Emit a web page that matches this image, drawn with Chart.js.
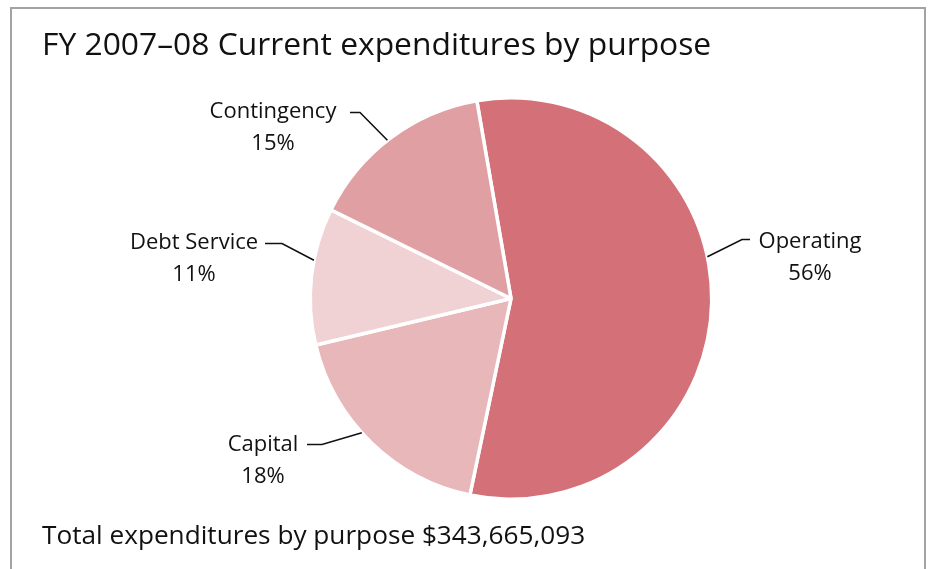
<!DOCTYPE html>
<html>
<head>
<meta charset="utf-8">
<script src="https://cdn.jsdelivr.net/npm/chart.js@4.4.1/dist/chart.umd.min.js"></script>
<style>
  html, body { margin: 0; padding: 0; background: #fff; }
  body { width: 934px; height: 569px; position: relative; overflow: hidden; font-family: "Open Sans", "Noto Sans", sans-serif; color: #111; }
  .frame { position: absolute; left: 10px; top: 7px; width: 916px; height: 600px; border: 2px solid #a3a3a3; box-sizing: border-box; }
  .title { position: absolute; left: 42px; top: 27px; font-size: 31.8px; line-height: 1; white-space: nowrap; }
  .footer { position: absolute; left: 42px; top: 521px; font-size: 26.2px; line-height: 1; white-space: nowrap; }
  #pie { position: absolute; left: 0; top: 0; }
</style>
</head>
<body>
<div class="frame"></div>
<canvas id="pie" width="934" height="569"></canvas>
<div class="title">FY 2007–08 Current expenditures by purpose</div>
<div class="footer">Total expenditures by purpose $343,665,093</div>
<script>
const purposes = ['Operating', 'Capital', 'Debt Service', 'Contingency'];
const shares = [56, 18, 11, 15];
const sliceColors = ['#d47077', '#e8b7ba', '#f0d1d4', '#e0a0a3'];

// callout layout per slice: angle on the rim (deg, clockwise from top),
// elbow and text centre given relative to the pie centre
const callouts = [
  { angle: 78,  elbow: [231, -59], end: [239, -59], text: [299, -57] },
  { angle: 228, elbow: [-189, 146], end: [-204, 146], text: [-248, 146] },
  { angle: 281, elbow: [-229, -55], end: [-246, -55], text: [-317, -56] },
  { angle: 322, elbow: [-151, -186], end: [-161, -186], text: [-238, -187] }
];

const calloutPlugin = {
  id: 'callouts',
  afterDatasetsDraw(chart) {
    const ctx = chart.ctx;
    const arcs = chart.getDatasetMeta(0).data;
    ctx.save();
    arcs.forEach((arc, i) => {
      const c = callouts[i];
      const cx = arc.x, cy = arc.y, r = arc.outerRadius;
      const a = (c.angle - 90) * Math.PI / 180;
      ctx.strokeStyle = '#111';
      ctx.lineWidth = 1.6;
      ctx.beginPath();
      ctx.moveTo(cx + Math.cos(a) * r, cy + Math.sin(a) * r);
      ctx.lineTo(cx + c.elbow[0], cy + c.elbow[1]);
      ctx.lineTo(cx + c.end[0], cy + c.end[1]);
      ctx.stroke();

      ctx.fillStyle = '#111';
      ctx.font = '22px "Open Sans", "Noto Sans", sans-serif';
      ctx.textAlign = 'center';
      ctx.textBaseline = 'middle';
      ctx.fillText(purposes[i], cx + c.text[0], cy + c.text[1]);
      ctx.fillText(shares[i] + '%', cx + c.text[0], cy + c.text[1] + 32);
    });
    ctx.restore();
  }
};

const chart = new Chart(document.getElementById('pie'), {
  type: 'pie',
  data: {
    labels: purposes,
    datasets: [{
      data: shares,
      backgroundColor: sliceColors,
      borderColor: '#ffffff',
      borderWidth: 3.5
    }]
  },
  options: {
    responsive: false,
    animation: false,
    rotation: -9.8,
    layout: { padding: { left: 308, right: 220, top: 96, bottom: 68 } },
    plugins: {
      legend: { display: false },
      tooltip: { enabled: false }
    }
  },
  plugins: [calloutPlugin]
});
</script>
</body>
</html>
